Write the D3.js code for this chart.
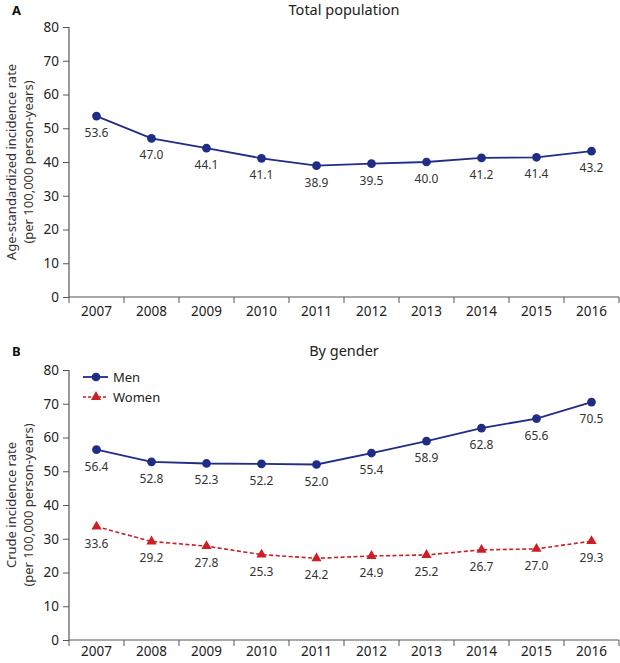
<!DOCTYPE html>
<html><head><meta charset="utf-8">
<script src="https://cdn.jsdelivr.net/npm/d3@7"></script>
<style>body{margin:0;background:#fff;} svg{display:block;font-family:"Noto Sans",sans-serif;}</style>
</head><body>
<svg id="c" width="620" height="663"></svg>
<script>
const years = ["2007","2008","2009","2010","2011","2012","2013","2014","2015","2016"];
const totalRates = [53.6,47.0,44.1,41.1,38.9,39.5,40.0,41.2,41.4,43.2];
const menRates = [56.4,52.8,52.3,52.2,52.0,55.4,58.9,62.8,65.6,70.5];
const womenRates = [33.6,29.2,27.8,25.3,24.2,24.9,25.2,26.7,27.0,29.3];
const yTicks = [0,10,20,30,40,50,60,70,80];

const svg = d3.select("#c");
const navy = "#1f2d86", red = "#cc1f24", axisCol = "#555", txt = "#333";

function panel(opts){
  const g = svg.append("g");
  const x = d3.scaleBand().domain(years).range([69,619]);
  const y = d3.scaleLinear().domain([0,80]).range([opts.y0, opts.y80]);
  const ya = g.append("g").attr("transform","translate(69,0)")
    .call(d3.axisLeft(y).tickValues(yTicks).tickSize(6).tickPadding(4));
  const xa = g.append("g").attr("transform",`translate(0,${opts.y0})`)
    .call(d3.axisBottom(x).tickSize(0).tickPadding(opts.xpad));
  const edges = years.map(d=>x(d)).concat([619]);
  xa.selectAll(".edge").data(edges).enter().append("line")
    .attr("x1",d=>d).attr("x2",d=>d).attr("y1",0).attr("y2",6).attr("stroke",axisCol);
  [ya,xa].forEach(a=>{
    a.selectAll(".domain").attr("stroke",axisCol).attr("stroke-width",1.2);
    a.selectAll(".tick line").attr("stroke",axisCol);
    a.selectAll("text").attr("fill","#222").style("font-size","13.5px").style("font-family","Noto Sans, sans-serif");
  });
  xa.select(".domain").attr("d",`M69,0H619`);
  ya.select(".domain").attr("d",`M0,${opts.y80}V${opts.y0}`);
  g.append("text").attr("x",344).attr("y",opts.titleY).attr("text-anchor","middle")
    .style("font-size","14.5px").attr("fill","#222").text(opts.title);
  g.append("text").attr("x",12).attr("y",opts.titleY).style("font-size","13px").style("font-weight","bold")
    .attr("fill","#111").text(opts.letter);
  const cy = (opts.y0+opts.y80)/2;
  const yt = g.append("text").attr("transform",`translate(16,${cy}) rotate(-90)`).attr("text-anchor","middle")
    .style("font-size","13px").attr("fill","#333");
  yt.append("tspan").attr("x",0).attr("dy",0).text(opts.ylab1);
  yt.append("tspan").attr("x",0).attr("dy",17).text(opts.ylab2);
  return {g,x,y};
}

function series(p, vals, color, dashed, shape){
  const line = d3.line().x((d,i)=>p.x(years[i])+p.x.bandwidth()/2).y(d=>p.y(d));
  p.g.append("path").datum(vals).attr("d",line).attr("fill","none").attr("stroke",color)
    .attr("stroke-width",dashed?1.6:1.8).attr("stroke-dasharray",dashed?"4,2.5":null);
  const sym = d3.symbol().type(shape).size(shape===d3.symbolCircle?60:45);
  p.g.selectAll(null).data(vals).enter().append("path")
    .attr("d",sym)
    .attr("transform",(d,i)=>`translate(${p.x(years[i])+p.x.bandwidth()/2},${p.y(d)})`)
    .attr("fill",color);
  p.g.selectAll(null).data(vals).enter().append("text")
    .attr("x",(d,i)=>p.x(years[i])+p.x.bandwidth()/2)
    .attr("y",d=>p.y(d)+21).attr("text-anchor","middle")
    .style("font-size","12px").attr("fill",txt).text(d=>d.toFixed(1));
}

const pA = panel({y0:297,y80:27,title:"Total population",letter:"A",titleY:15,xpad:9,
  ylab1:"Age-standardized incidence rate",ylab2:"(per 100,000 person-years)"});
series(pA,totalRates,navy,false,d3.symbolCircle);

const pB = panel({y0:640,y80:370,title:"By gender",letter:"B",titleY:356,xpad:6,
  ylab1:"Crude incidence rate",ylab2:"(per 100,000 person-years)"});
series(pB,menRates,navy,false,d3.symbolCircle);
series(pB,womenRates,red,true,d3.symbolTriangle);

const lg = pB.g.append("g");
[[navy,false,d3.symbolCircle,"Men",377],[red,true,d3.symbolTriangle,"Women",397]].forEach(([c,dash,s,t,yy])=>{
  lg.append("line").attr("x1",83).attr("x2",108).attr("y1",yy).attr("y2",yy).attr("stroke",c)
    .attr("stroke-width",dash?1.6:1.8).attr("stroke-dasharray",dash?"3,2":null);
  lg.append("path").attr("d",d3.symbol().type(s).size(s===d3.symbolCircle?60:45)()).attr("transform",`translate(96,${yy})`).attr("fill",c);
  lg.append("text").attr("x",113).attr("y",yy+4.5).style("font-size","13px").attr("fill","#222").text(t);
});
</script>
</body></html>
